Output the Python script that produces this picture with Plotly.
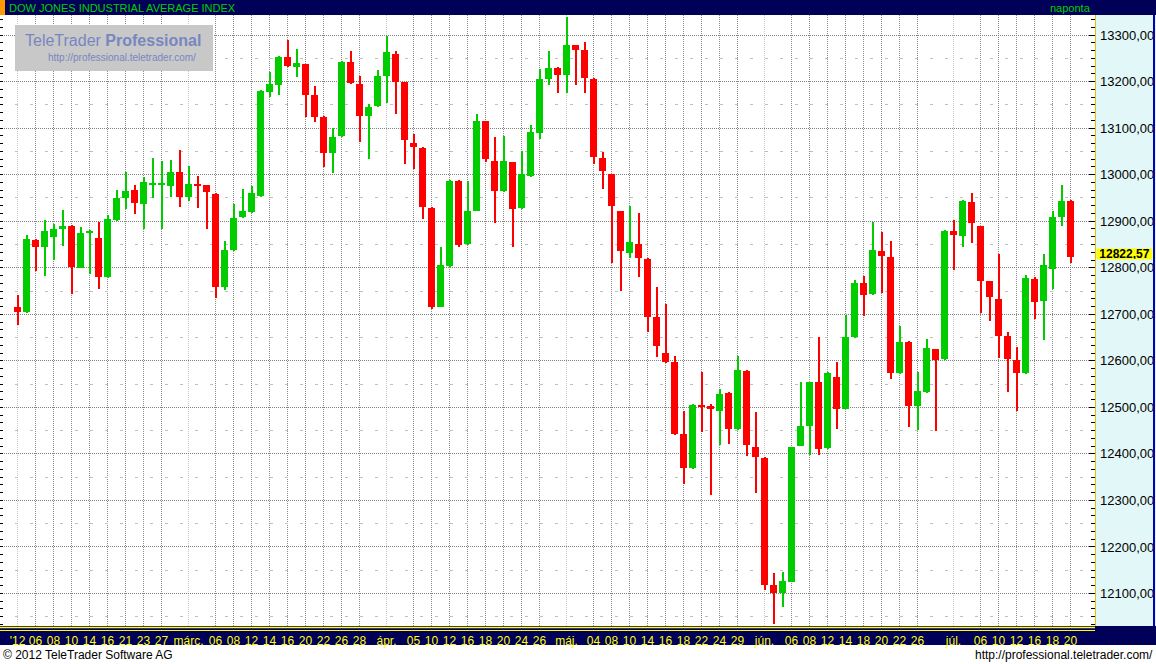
import plotly.graph_objects as go

# ---------------- data ----------------
open_ = [12716,12705,12860,12845,12867,12883,12890,12800,12874,12864,12780,12903,12951,12967,12938,12978,12978,12976,13006,12953,
         12980,12978,12959,12759,12838,12910,12920,12955,13178,13193,13254,13232,13238,13171,13124,13047,13084,13242,13195,13127,
         13148,13213,13260,13199,13068,13057,12928,12716,12804,12987,12851,12922,13115,13029,12965,13027,12929,12998,13090,13206,
         13229,13215,13279,13268,13206,13036,13002,12922,12832,12851,12819,12695,12617,12597,12443,12370,12505,12502,12492,12531,
         12454,12578,12415,12392,12118,12101,12125,12418,12460,12555,12413,12565,12497,12651,12767,12744,12836,12823,12574,12641,
         12503,12533,12626,12604,12879,12868,12941,12890,12772,12733,12653,12602,12574,12776,12728,12797,12909,12944]
high = [12742,12870,12862,12903,12894,12924,12891,12888,12881,12899,12913,12967,13006,12978,12995,13035,13030,13032,13053,13018,
        12997,12978,12961,12858,12937,12969,12976,13181,13221,13256,13290,13270,13238,13191,13126,13100,13244,13266,13212,13152,
        13225,13298,13266,13199,13088,13060,12931,12845,12989,12989,12987,13130,13116,13082,13084,13028,13051,13107,13227,13266,
        13232,13339,13279,13285,13208,13049,13002,12922,12933,12918,12820,12759,12722,12611,12492,12507,12576,12507,12540,12533,
        12611,12580,12490,12394,12144,12146,12415,12555,12555,12651,12576,12598,12699,12774,12782,12898,12877,12858,12675,12643,
        12576,12647,12626,12881,12903,12946,12961,12890,12772,12830,12662,12630,12784,12780,12830,12922,12978,12946]
low = [12676,12703,12794,12783,12817,12847,12744,12800,12787,12755,12779,12901,12926,12916,12884,12951,12884,12953,12931,12944,
       12929,12884,12736,12753,12837,12908,12918,12953,13168,13171,13232,13209,13125,13114,13017,13004,13082,13195,13071,13034,
       13146,13155,13131,13022,13013,12905,12712,12716,12802,12845,12849,12922,13028,12897,12963,12845,12927,12994,13077,13193,
       13176,13176,13193,13176,13024,12970,12811,12749,12822,12781,12663,12609,12595,12441,12336,12368,12448,12312,12420,12422,
       12452,12396,12317,12108,12035,12072,12125,12418,12398,12398,12411,12454,12497,12649,12697,12742,12746,12561,12572,12458,
       12451,12531,12450,12602,12795,12845,12853,12703,12686,12606,12533,12492,12572,12690,12645,12754,12890,12810]
close = [12705,12862,12845,12879,12883,12890,12802,12875,12879,12781,12905,12950,12965,12940,12984,12982,12982,13006,12953,12980,
         12976,12963,12759,12838,12907,12922,12961,13179,13195,13254,13234,13240,13171,13125,13047,13081,13242,13197,13127,13146,
         13212,13264,13200,13075,13060,12931,12716,12806,12987,12849,12922,13115,13034,12965,13029,12927,13002,13092,13206,13229,
         13215,13279,13268,13208,13039,13009,12933,12837,12855,12822,12695,12632,12597,12443,12370,12505,12501,12497,12529,12454,
         12580,12420,12394,12118,12101,12127,12415,12460,12555,12411,12574,12497,12651,12767,12741,12838,12825,12574,12641,12503,
         12535,12628,12602,12879,12870,12944,12896,12772,12737,12653,12604,12574,12778,12726,12806,12909,12944,12822.57]

# x-axis labels (trading-day index -> label)
tick_idx = [0,2,4,6,8,10,12,14,16,19,22,24,26,28,30,32,34,36,38,41,44,46,48,50,52,54,56,58,61,
            64,66,68,70,72,74,76,78,80,83,86,88,90,92,94,96,98,100,104,107,109,111,113,115,117]
tick_text = ["'12","06","08","10","14","16","21","23","27","márc.","06","08","12","14","16","20","22","26","28","ápr.",
             "05","10","12","16","18","20","24","26","máj.","04","08","10","14","16","18","22","24","29","jún.",
             "06","08","12","14","18","20","22","26","júl.","06","10","12","16","18","20"]

title = "DOW JONES INDUSTRIAL AVERAGE INDEX"
period = "naponta"

# ---------------- geometry ----------------
W, H = 1156, 664
L, R, T, B = 0, 1095, 15, 626
PW, PH = R - L, B - T
PX_PER_DAY = 9.0
X0_PX = 17.5          # pixel centre of first candle
Y_TOP, Y_BOT = 13343.2, 12030.1

def xp(px):
    return (px - L) / PW

def yp(py):
    return (B - py) / PH

n = len(close)
idx = list(range(n))
GREEN, RED = "#00cc00", "#ff0000"
colors = [GREEN if c >= o else RED for o, c in zip(open_, close)]

fig = go.Figure()
# wicks
fig.add_trace(go.Bar(x=idx, y=[h - l for h, l in zip(high, low)], base=low, width=2 / PX_PER_DAY,
                     marker=dict(color=colors, line=dict(width=0)), hoverinfo="skip", showlegend=False))
# bodies
fig.add_trace(go.Bar(x=idx, y=[abs(c - o) for o, c in zip(open_, close)],
                     base=[min(o, c) for o, c in zip(open_, close)], width=7 / PX_PER_DAY,
                     marker=dict(color=colors, line=dict(width=0)), showlegend=False,
                     customdata=list(zip(open_, high, low, close)),
                     hovertemplate="O %{customdata[0]}<br>H %{customdata[1]}<br>L %{customdata[2]}<br>C %{customdata[3]}<extra></extra>"))
# dummy trace for the left tick axis
fig.add_trace(go.Scatter(x=[None], y=[None], yaxis="y2", showlegend=False, hoverinfo="skip"))

xmin = -(X0_PX - L) / PX_PER_DAY
xmax = (n - 1) + (R - (X0_PX + (n - 1) * PX_PER_DAY)) / PX_PER_DAY

NAVY = "#000058"
shapes = []
# vertical grid lines at label dates
for i, t in zip(tick_idx, tick_text):
    is_month = not t.isdigit()
    shapes.append(dict(type="line", xref="x", yref="paper", x0=i, x1=i, y0=0, y1=1, layer="below",
                       line=dict(color="#c8c8c8" if is_month else "#8c8c8c", width=1, dash="1px,1px")))
# right value panel
shapes.append(dict(type="rect", xref="paper", yref="paper", x0=xp(1095), x1=xp(1156), y0=yp(626), y1=yp(15),
                   fillcolor="#e2f7f7", line=dict(width=0), layer="below"))
shapes.append(dict(type="line", xref="paper", yref="paper", x0=xp(1095.5), x1=xp(1095.5), y0=yp(626), y1=yp(15),
                   line=dict(color="#e8c000", width=1), layer="above"))
shapes.append(dict(type="line", xref="paper", yref="paper", x0=xp(1154), x1=xp(1154), y0=yp(626), y1=yp(15),
                   line=dict(color="#0000c0", width=2), layer="above"))
# header bar
shapes.append(dict(type="rect", xref="paper", yref="paper", x0=xp(0), x1=xp(1156), y0=yp(15), y1=yp(0),
                   fillcolor=NAVY, line=dict(width=0), layer="below"))
shapes.append(dict(type="rect", xref="paper", yref="paper", x0=xp(0), x1=xp(5), y0=yp(15), y1=yp(0),
                   fillcolor="#ff9900", line=dict(width=0), layer="above"))
# bottom date bar
shapes.append(dict(type="rect", xref="paper", yref="paper", x0=xp(0), x1=xp(1156), y0=yp(645), y1=yp(626),
                   fillcolor=NAVY, line=dict(width=0), layer="below"))
shapes.append(dict(type="line", xref="paper", yref="paper", x0=xp(0), x1=xp(1095), y0=yp(627.5), y1=yp(627.5),
                   line=dict(color="#ffff00", width=1.5), layer="above"))
shapes.append(dict(type="line", xref="paper", yref="paper", x0=xp(0), x1=xp(1095), y0=yp(630.5), y1=yp(630.5),
                   line=dict(color="#ffff00", width=1), layer="above"))
# watermark box
shapes.append(dict(type="rect", xref="paper", yref="paper", x0=xp(15), x1=xp(213), y0=yp(71), y1=yp(25),
                   fillcolor="#c8c8c8", line=dict(width=0), layer="above"))

FONT = "Liberation Sans, Arial, sans-serif"
last = close[-1]
annotations = [
    dict(xref="paper", yref="paper", x=xp(7), y=yp(7.5), xanchor="left", yanchor="middle", showarrow=False,
         text=title, font=dict(family=FONT, size=11, color="#00d000")),
    dict(xref="paper", yref="paper", x=xp(1093), y=yp(7.5), xanchor="right", yanchor="middle", showarrow=False,
         text=period, font=dict(family=FONT, size=11, color="#00d000")),
    dict(xref="paper", yref="paper", x=xp(1), y=yp(655), xanchor="left", yanchor="middle", showarrow=False,
         text="© 2012 TeleTrader Software AG", font=dict(family=FONT, size=12, color="#000000")),
    dict(xref="paper", yref="paper", x=xp(1155), y=yp(655), xanchor="right", yanchor="middle", showarrow=False,
         text="http://professional.teletrader.com/", font=dict(family=FONT, size=12, color="#000000")),
    dict(xref="paper", yref="paper", x=xp(113), y=yp(41), xanchor="center", yanchor="middle", showarrow=False,
         text="TeleTrader <b>Professional</b>", font=dict(family=FONT, size=16, color="#7886c0")),
    dict(xref="paper", yref="paper", x=xp(122), y=yp(57), xanchor="center", yanchor="middle", showarrow=False,
         text="http://professional.teletrader.com/", font=dict(family=FONT, size=10, color="#7886c0")),
    dict(xref="paper", yref="y", x=xp(1096), y=last, xanchor="left", yanchor="middle", showarrow=False,
         yshift=3, text="<b>" + f"{last:.2f}".replace(".", ",") + "</b>", bgcolor="#ffff00", width=55, height=10,
         borderpad=0, font=dict(family=FONT, size=12, color="#000000")),
]

fig.update_layout(
    width=W, height=H, margin=dict(l=L, r=W - R, t=T, b=H - B, pad=0),
    plot_bgcolor="#ffffff", paper_bgcolor="#ffffff", barmode="overlay", bargap=0,
    showlegend=False, separators=",.", hovermode="closest",
    shapes=shapes, annotations=annotations,
    xaxis=dict(range=[xmin, xmax], tickmode="array", tickvals=tick_idx, ticktext=tick_text,
               tickfont=dict(family=FONT, size=12, color="#ffff00"), showgrid=False, zeroline=False,
               showline=False, ticks="", ticklabelstandoff=6, fixedrange=True),
    yaxis=dict(side="right", range=[Y_BOT, Y_TOP], tick0=0, dtick=100, tickformat=".2f",
               tickfont=dict(family=FONT, size=13, color="#000000"), showgrid=True, gridcolor="#808080",
               griddash="1px,1px", gridwidth=1, ticks="inside", ticklen=6, tickcolor="#000000",
               minor=dict(tick0=0, dtick=100 / 6, ticks="inside", ticklen=4, tickcolor="#000000", showgrid=False),
               zeroline=False, showline=False, ticklabelstandoff=4, fixedrange=True),
    yaxis2=dict(overlaying="y", matches="y", side="left", tick0=50, dtick=100, showticklabels=False,
                showgrid=True, gridcolor="#c0c0c0", griddash="3px,12px", gridwidth=1,
                ticks="inside", ticklen=3, tickcolor="#000000",
                minor=dict(tick0=0, dtick=100 / 6, ticks="inside", ticklen=3, tickcolor="#000000", showgrid=False),
                zeroline=False, showline=False, fixedrange=True),
)

fig.write_html("out.html", config={"displayModeBar": False},
               post_script="document.body.style.margin='0';document.body.style.overflow='hidden';")
